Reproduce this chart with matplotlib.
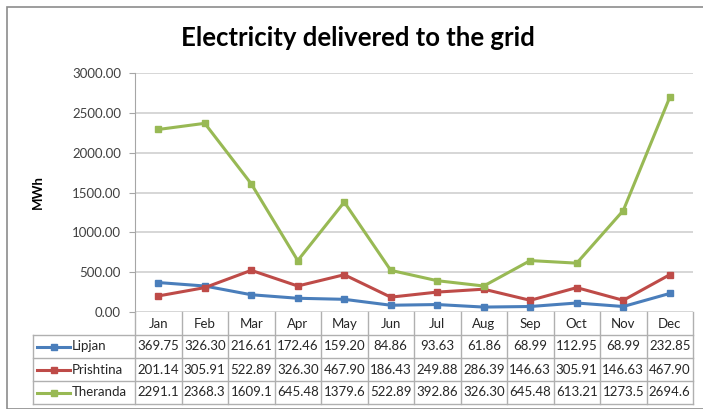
import matplotlib
matplotlib.use("Agg")
import matplotlib.pyplot as plt
from matplotlib.lines import Line2D
from matplotlib.patches import Rectangle
import matplotlib.transforms as mtransforms

months = ["Jan", "Feb", "Mar", "Apr", "May", "Jun", "Jul", "Aug", "Sep", "Oct", "Nov", "Dec"]
series_names = ["Lipjan", "Prishtina", "Theranda"]
lipjan = [369.75, 326.30, 216.61, 172.46, 159.20, 84.86, 93.63, 61.86, 68.99, 112.95, 68.99, 232.85]
prishtina = [201.14, 305.91, 522.89, 326.30, 467.90, 186.43, 249.88, 286.39, 146.63, 305.91, 146.63, 467.90]
theranda = [2291.1, 2368.3, 1609.1, 645.48, 1379.6, 522.89, 392.86, 326.30, 645.48, 613.21, 1273.5, 2694.6]
lipjan_txt = ["369.75", "326.30", "216.61", "172.46", "159.20", "84.86", "93.63", "61.86", "68.99", "112.95", "68.99", "232.85"]
prishtina_txt = ["201.14", "305.91", "522.89", "326.30", "467.90", "186.43", "249.88", "286.39", "146.63", "305.91", "146.63", "467.90"]
theranda_txt = ["2291.1", "2368.3", "1609.1", "645.48", "1379.6", "522.89", "392.86", "326.30", "645.48", "613.21", "1273.5", "2694.6"]
yticks = [0, 500, 1000, 1500, 2000, 2500, 3000]
colors = ["#4a7ebb", "#be4b48", "#98b954"]

W, H = 703, 409
fig = plt.figure(figsize=(W / 100, H / 100), dpi=100)
FONT = "Lato"
plt.rcParams["font.family"] = [FONT, "DejaVu Sans"]

# outer border
fig.patches.append(Rectangle((7 / W, 0), (W + 20) / W, (H - 7) / H, transform=fig.transFigure,
                             fill=False, edgecolor="#8c8c8c", lw=1.2))

L, R, T, B = 135, 693, 73, 312
ax = fig.add_axes([L / W, 1 - B / H, (R - L) / W, (B - T) / H])
ax.set_xlim(-0.5, 11.5)
ax.set_ylim(0, 3000)
ax.set_yticks(yticks)
ax.set_yticklabels([f"{v:.2f}" for v in yticks], fontsize=9.5, color="#404040")
ax.set_xticks([])
for s in ["top", "right", "bottom"]:
    ax.spines[s].set_visible(False)
ax.spines["left"].set_color("#a6a6a6")
ax.tick_params(axis="y", length=4, color="#a6a6a6", pad=6)
ax.grid(axis="y", color="#d0d0d0", lw=1.2)
ax.set_axisbelow(True)

data = [lipjan, prishtina, theranda]
x = list(range(12))
for vals, c in zip(data, colors):
    ax.plot(x, vals, color=c, lw=2.2, marker="s", ms=4, zorder=3)

ax.set_ylabel("MWh", fontsize=9.5, fontweight="bold", labelpad=20)

fig.text(358 / W, 1 - 38 / H, "Electricity delivered to the grid", fontsize=18.5,
         fontweight="bold", ha="center", va="center")

# table
bt = mtransforms.blended_transform_factory(ax.transData, fig.transFigure)
rows_y = [312, 335, 358, 381, 404]
gc = "#b0b0b0"
def fy(py):
    return 1 - py / H
for py in rows_y[1:]:
    fig.add_artist(Line2D([33 / W, R / W], [fy(py), fy(py)], color=gc, lw=1))
for i in range(13):
    fig.add_artist(Line2D([i - 0.5, i - 0.5], [fy(312), fy(404)], transform=bt, color=gc, lw=1))
fig.add_artist(Line2D([33 / W, 33 / W], [fy(335), fy(404)], color=gc, lw=1))

for i, m in enumerate(months):
    fig.text(i, fy(323.5), m, transform=bt, ha="center", va="center", fontsize=9.5, color="#262626")
texts = [lipjan_txt, prishtina_txt, theranda_txt]
for r, (name, c, tv) in enumerate(zip(series_names, colors, texts)):
    yc = fy((rows_y[r + 1] + rows_y[r + 2]) / 2)
    fig.add_artist(Line2D([37 / W, 70 / W], [yc, yc], color=c, lw=2.2))
    fig.add_artist(Line2D([53.5 / W], [yc], color=c, marker="s", ms=4, lw=0))
    fig.text(72 / W, yc, name, ha="left", va="center", fontsize=9.5, color="#262626")
    for i, t in enumerate(tv):
        fig.text(i, yc, t, transform=bt, ha="center", va="center", fontsize=9.5, color="#262626")

fig.savefig("out.png", dpi=100)
